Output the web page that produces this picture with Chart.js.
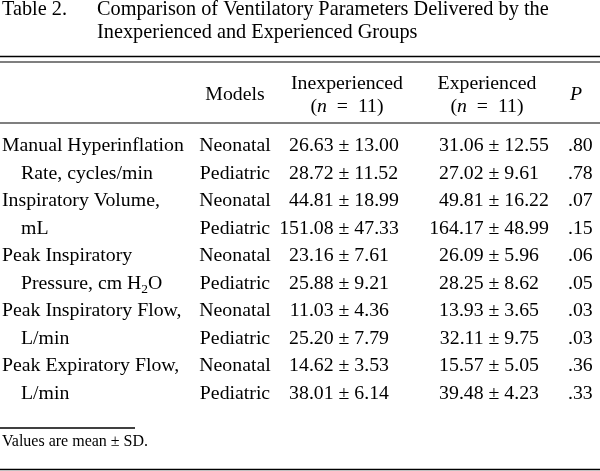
<!DOCTYPE html>
<html>
<head>
<meta charset="utf-8">
<script src="https://cdn.jsdelivr.net/npm/chart.js@4"></script>
<style>
  html, body { margin: 0; padding: 0; background: #ffffff; }
  #wrap { width: 600px; height: 471px; position: relative; }
</style>
</head>
<body>
<div id="wrap"><canvas id="c"></canvas></div>
<script>
// ---------------- data ----------------
const tableLabel = "Table 2.";
const titleLines = ["Comparison of Ventilatory Parameters Delivered by the",
                    "Inexperienced and Experienced Groups"];
const parameters = [
  ["Manual Hyperinflation", "Rate, cycles/min"],
  ["Inspiratory Volume,", "mL"],
  ["Peak Inspiratory", "Pressure, cm H|2|O"],
  ["Peak Inspiratory Flow,", "L/min"],
  ["Peak Expiratory Flow,", "L/min"]
];
const models = ["Neonatal", "Pediatric"];
const inexpMean = [26.63, 28.72, 44.81, 151.08, 23.16, 25.88, 11.03, 25.20, 14.62, 38.01];
const inexpSD   = [13.00, 11.52, 18.99, 47.33, 7.61, 9.21, 4.36, 7.79, 3.53, 6.14];
const expMean   = [31.06, 27.02, 49.81, 164.17, 26.09, 28.25, 13.93, 32.11, 15.57, 39.48];
const expSD     = [12.55, 9.61, 16.22, 48.99, 5.96, 8.62, 3.65, 9.75, 5.05, 4.23];
const pValues   = [".80", ".78", ".07", ".15", ".06", ".05", ".03", ".03", ".36", ".33"];
const groupN    = [11, 11];
const footnote  = "Values are mean \u00b1 SD.";

// ---------------- layout (styles, not data) ----------------
const FONT = '"Liberation Serif", "Times New Roman", serif';
const BODY = 19.8, TITLE = 20.3, FOOT = 16;
const COL = { label: 2, indent: 21, models: 235, inexp: 344, exp: 494, p: 568, title: 97 };
const ROW = { first: 146, step: 27.5 };
const LINES = { title1: 9.5, title2: 32.5, rule1: 56.5, rule2: 62, head1: 84, headMid: 95, head2: 107,
                rule3: 123, shortRule: 428, foot: 442, rule4: 469.5 };
const rowY = i => ROW.first + i * ROW.step;

function cellData(x) { return inexpMean.map((_, i) => ({ x: x, y: rowY(i) })); }

const datasets = [
  { label: 'labels', kind: 'label', data: inexpMean.map((_, i) => ({ x: i % 2 ? COL.indent : COL.label, y: rowY(i) })) },
  { label: 'models', kind: 'model', data: cellData(COL.models) },
  { label: 'inexp', kind: 'value', mean: inexpMean, sd: inexpSD, data: cellData(COL.inexp) },
  { label: 'exp', kind: 'value', mean: expMean, sd: expSD, data: cellData(COL.exp) },
  { label: 'p', kind: 'p', data: cellData(COL.p) }
].map(d => Object.assign(d, { pointRadius: 0, pointHoverRadius: 0, showLine: false }));

function drawRich(ctx, text, x, y, size) {
  // "H|2|O" -> subscript for middle part
  const parts = text.split('|');
  let cx = x;
  parts.forEach((p, k) => {
    if (k % 2 === 1) {
      ctx.font = (size * 0.68) + 'px ' + FONT;
      ctx.fillText(p, cx, y + size * 0.28);
    } else {
      ctx.font = size + 'px ' + FONT;
      ctx.fillText(p, cx, y);
    }
    cx += ctx.measureText(p).width;
  });
  ctx.font = size + 'px ' + FONT;
}

function drawN(ctx, cx, y, n) {
  // "(n = 11)" with italic n, centred at cx
  const reg = BODY + 'px ' + FONT, ita = 'italic ' + BODY + 'px ' + FONT;
  const segs = [['(', reg], ['n', ita], ['  =  ', reg], [String(n) + ')', reg]];
  let w = 0;
  segs.forEach(s => { ctx.font = s[1]; w += ctx.measureText(s[0]).width; });
  let x = cx - w / 2;
  ctx.textAlign = 'left';
  segs.forEach(s => { ctx.font = s[1]; ctx.fillText(s[0], x, y); x += ctx.measureText(s[0]).width; });
}

const tablePlugin = {
  id: 'tablePlugin',
  afterDatasetsDraw(chart) {
    const ctx = chart.ctx, xs = chart.scales.x, ys = chart.scales.y;
    const X = v => xs.getPixelForValue(v), Y = v => ys.getPixelForValue(v);
    ctx.save();
    ctx.fillStyle = '#000';
    ctx.textBaseline = 'middle';

    // title
    ctx.font = TITLE + 'px ' + FONT;
    ctx.textAlign = 'left';
    ctx.fillText(tableLabel, X(COL.label), Y(LINES.title1));
    ctx.fillText(titleLines[0], X(COL.title), Y(LINES.title1));
    ctx.fillText(titleLines[1], X(COL.title), Y(LINES.title2));

    // rules
    ctx.strokeStyle = '#000';
    const rule = (y, w, x0, x1) => {
      ctx.lineWidth = w; ctx.beginPath();
      ctx.moveTo(X(x0), Y(y)); ctx.lineTo(X(x1), Y(y)); ctx.stroke();
    };
    rule(LINES.rule1, 1.6, 0, 600);
    rule(LINES.rule2, 1.1, 0, 600);
    rule(LINES.rule3, 1.1, 0, 600);
    rule(LINES.shortRule, 1.3, 0, 135);
    rule(LINES.rule4, 1.6, 0, 600);

    // header
    ctx.font = BODY + 'px ' + FONT;
    ctx.textAlign = 'center';
    ctx.fillText('Models', X(COL.models), Y(LINES.headMid));
    ctx.fillText('Inexperienced', X(347), Y(LINES.head1));
    ctx.fillText('Experienced', X(487), Y(LINES.head1));
    drawN(ctx, X(347), Y(LINES.head2), groupN[0]);
    drawN(ctx, X(487), Y(LINES.head2), groupN[1]);
    ctx.font = 'italic ' + BODY + 'px ' + FONT;
    ctx.textAlign = 'center';
    ctx.fillText('P', X(576), Y(LINES.headMid));

    // body cells from dataset elements
    ctx.font = BODY + 'px ' + FONT;
    chart.data.datasets.forEach((ds, di) => {
      const meta = chart.getDatasetMeta(di);
      meta.data.forEach((el, i) => {
        const x = el.x, y = el.y;
        if (ds.kind === 'label') {
          ctx.textAlign = 'left';
          drawRich(ctx, parameters[Math.floor(i / 2)][i % 2], x, y, BODY);
        } else if (ds.kind === 'model') {
          ctx.textAlign = 'center';
          ctx.fillText(models[i % 2], x, y);
        } else if (ds.kind === 'value') {
          const half = ctx.measureText('\u00b1').width / 2 + ctx.measureText(' ').width;
          ctx.textAlign = 'right';
          ctx.fillText(ds.mean[i].toFixed(2), x - half, y);
          ctx.textAlign = 'center';
          ctx.fillText('\u00b1', x, y);
          ctx.textAlign = 'left';
          ctx.fillText(ds.sd[i].toFixed(2), x + half, y);
        } else if (ds.kind === 'p') {
          ctx.textAlign = 'left';
          ctx.fillText(pValues[i], x, y);
        }
      });
    });

    // footnote
    ctx.font = FOOT + 'px ' + FONT;
    ctx.textAlign = 'left';
    ctx.fillText(footnote, X(COL.label), Y(LINES.foot));
    ctx.restore();
  }
};

new Chart(document.getElementById('c'), {
  type: 'scatter',
  data: { datasets },
  options: {
    responsive: true,
    maintainAspectRatio: false,
    animation: false,
    events: [],
    layout: { padding: 0 },
    plugins: { legend: { display: false }, tooltip: { enabled: false }, title: { display: false } },
    scales: {
      x: { type: 'linear', min: 0, max: 600, display: false },
      y: { type: 'linear', min: 0, max: 471, reverse: true, display: false }
    }
  },
  plugins: [tablePlugin]
});
</script>
</body>
</html>
